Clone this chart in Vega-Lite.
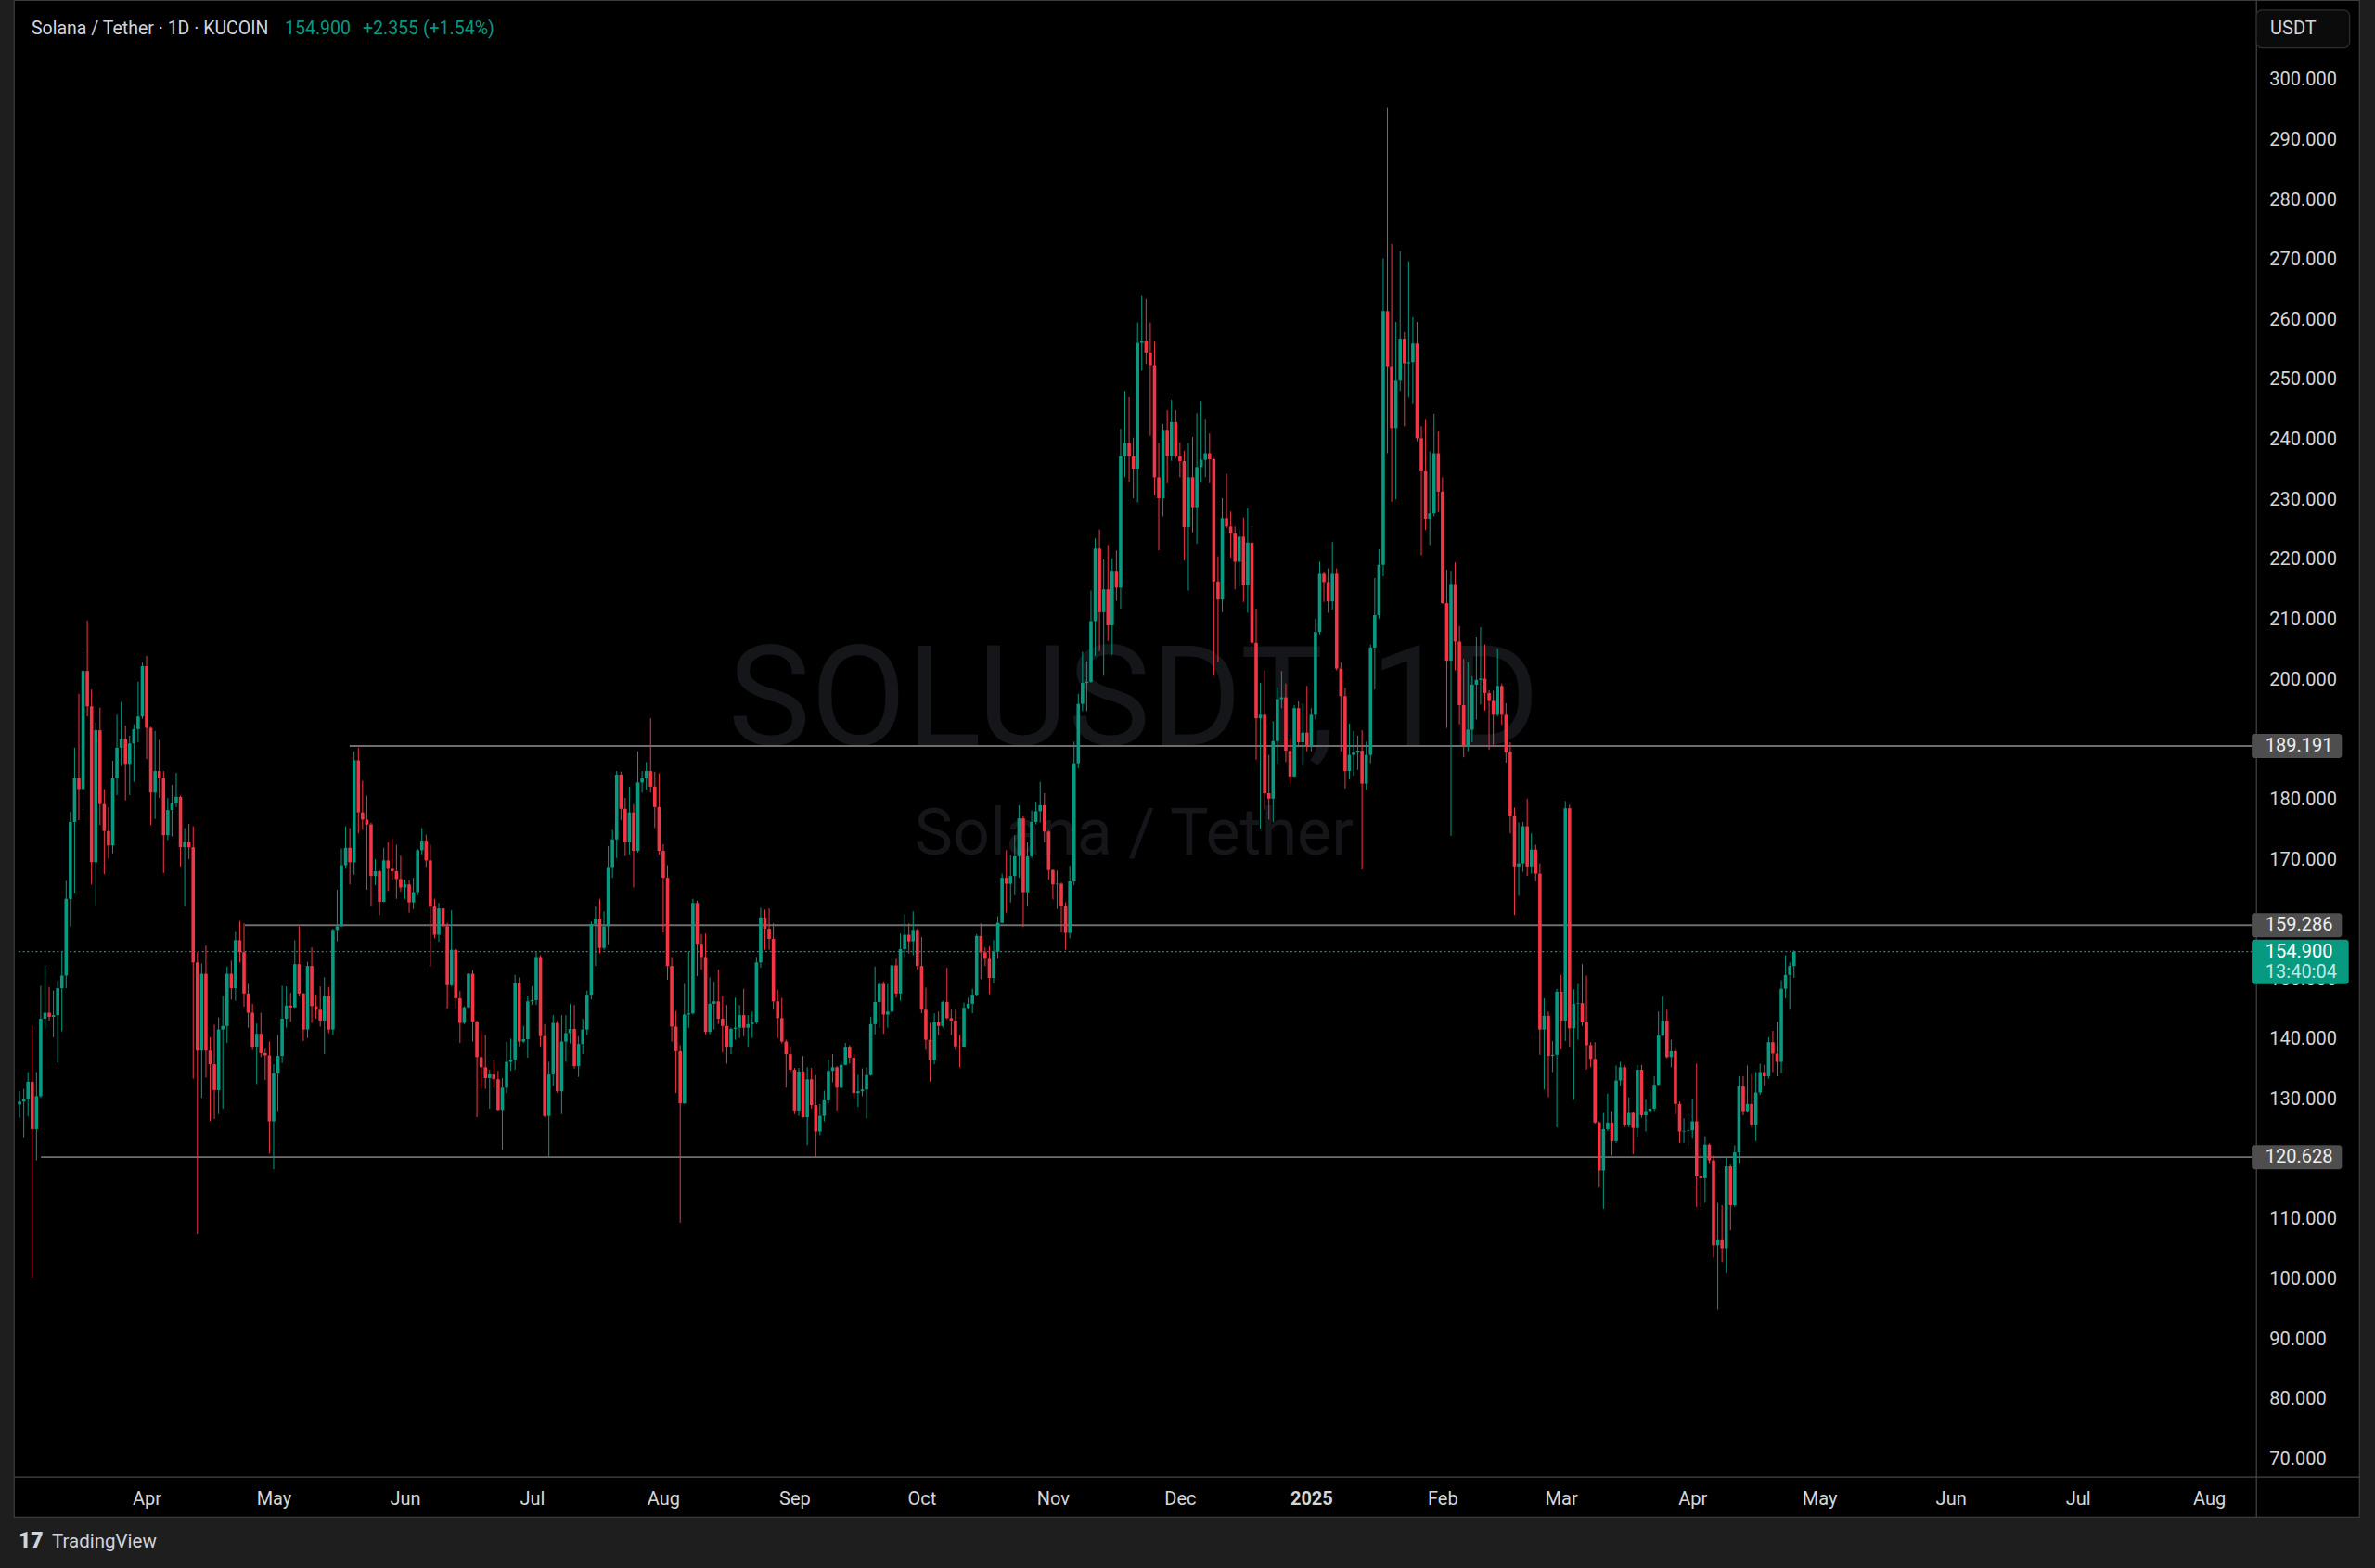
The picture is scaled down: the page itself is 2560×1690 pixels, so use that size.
{
"$schema":"https://vega.github.io/schema/vega-lite/v6.json",
"width":2528,"height":1635,
"autosize":{"type":"none"},
"padding":{"left":15,"top":0,"right":17,"bottom":55},
"background":"#1e1e1e",
"config":{"view":{"fill":"#000000","stroke":"#3c3c3c","strokeWidth":1.2},"font":"Roboto"},
"resolve":{"axis":{"x":"independent","y":"independent"}},
"datasets":{
"levels":[{"p":189.191,"s":"2024-05-18T22:33:00Z"},{"p":159.286,"s":"2024-04-24T05:17:00Z"},{"p":120.628,"s":"2024-03-07T01:40:00Z"}],
"candles":[
{"d":"2024-03-02","o":129.4,"h":131.6,"l":127.2,"c":129.9},
{"d":"2024-03-03","o":129.9,"h":132.0,"l":123.8,"c":130.3},
{"d":"2024-03-04","o":130.3,"h":134.8,"l":127.4,"c":133.2},
{"d":"2024-03-05","o":133.2,"h":142.5,"l":100.6,"c":125.3},
{"d":"2024-03-06","o":125.3,"h":134.8,"l":120.1,"c":130.8},
{"d":"2024-03-07","o":130.8,"h":149.2,"l":130.5,"c":143.7},
{"d":"2024-03-08","o":143.7,"h":152.5,"l":142.1,"c":144.7},
{"d":"2024-03-09","o":144.7,"h":149.0,"l":143.4,"c":144.0},
{"d":"2024-03-10","o":144.0,"h":148.4,"l":140.6,"c":144.3},
{"d":"2024-03-11","o":144.3,"h":150.1,"l":136.4,"c":148.8},
{"d":"2024-03-12","o":148.8,"h":155.0,"l":141.6,"c":150.9},
{"d":"2024-03-13","o":150.9,"h":166.7,"l":148.8,"c":163.7},
{"d":"2024-03-14","o":163.7,"h":178.2,"l":159.1,"c":176.5},
{"d":"2024-03-15","o":176.5,"h":188.9,"l":164.6,"c":183.8},
{"d":"2024-03-16","o":183.8,"h":197.9,"l":176.8,"c":182.0},
{"d":"2024-03-17","o":182.0,"h":204.9,"l":178.6,"c":201.7},
{"d":"2024-03-18","o":201.7,"h":210.1,"l":194.1,"c":195.8},
{"d":"2024-03-19","o":195.8,"h":198.6,"l":166.1,"c":169.8},
{"d":"2024-03-20","o":169.8,"h":193.1,"l":162.6,"c":191.8},
{"d":"2024-03-21","o":191.8,"h":195.6,"l":176.0,"c":179.5},
{"d":"2024-03-22","o":179.5,"h":182.0,"l":167.8,"c":175.0},
{"d":"2024-03-23","o":175.0,"h":179.0,"l":170.4,"c":172.6},
{"d":"2024-03-24","o":172.6,"h":186.7,"l":171.3,"c":183.8},
{"d":"2024-03-25","o":183.8,"h":194.4,"l":181.0,"c":188.9},
{"d":"2024-03-26","o":188.9,"h":196.5,"l":185.9,"c":190.3},
{"d":"2024-03-27","o":190.3,"h":192.6,"l":180.1,"c":186.2},
{"d":"2024-03-28","o":186.2,"h":190.9,"l":181.0,"c":189.6},
{"d":"2024-03-29","o":189.6,"h":192.8,"l":183.2,"c":192.0},
{"d":"2024-03-30","o":192.0,"h":199.9,"l":189.8,"c":194.1},
{"d":"2024-03-31","o":194.1,"h":203.1,"l":193.7,"c":202.5},
{"d":"2024-04-01","o":202.5,"h":204.2,"l":187.0,"c":192.2},
{"d":"2024-04-02","o":192.2,"h":192.4,"l":176.0,"c":181.4},
{"d":"2024-04-03","o":181.4,"h":191.7,"l":177.0,"c":185.0},
{"d":"2024-04-04","o":185.0,"h":190.2,"l":180.5,"c":183.8},
{"d":"2024-04-05","o":183.8,"h":185.0,"l":168.0,"c":174.3},
{"d":"2024-04-06","o":174.3,"h":180.5,"l":173.5,"c":178.5},
{"d":"2024-04-07","o":178.5,"h":182.7,"l":174.1,"c":179.6},
{"d":"2024-04-08","o":179.6,"h":184.7,"l":179.0,"c":180.7},
{"d":"2024-04-09","o":180.7,"h":180.9,"l":169.1,"c":172.3},
{"d":"2024-04-10","o":172.3,"h":175.5,"l":162.4,"c":173.2},
{"d":"2024-04-11","o":173.2,"h":176.2,"l":170.3,"c":172.3},
{"d":"2024-04-12","o":172.3,"h":175.8,"l":133.7,"c":153.1},
{"d":"2024-04-13","o":153.1,"h":154.8,"l":107.8,"c":138.4},
{"d":"2024-04-14","o":138.4,"h":152.9,"l":130.5,"c":151.2},
{"d":"2024-04-15","o":151.2,"h":155.9,"l":133.9,"c":138.4},
{"d":"2024-04-16","o":138.4,"h":140.6,"l":126.6,"c":136.1},
{"d":"2024-04-17","o":136.1,"h":142.7,"l":127.0,"c":131.8},
{"d":"2024-04-18","o":131.8,"h":143.9,"l":127.8,"c":141.9},
{"d":"2024-04-19","o":141.9,"h":147.5,"l":128.7,"c":142.5},
{"d":"2024-04-20","o":142.5,"h":152.4,"l":139.7,"c":151.2},
{"d":"2024-04-21","o":151.2,"h":153.4,"l":146.9,"c":148.8},
{"d":"2024-04-22","o":148.8,"h":158.3,"l":146.7,"c":156.8},
{"d":"2024-04-23","o":156.8,"h":160.0,"l":153.1,"c":154.8},
{"d":"2024-04-24","o":154.8,"h":159.6,"l":145.7,"c":147.9},
{"d":"2024-04-25","o":147.9,"h":149.5,"l":142.2,"c":144.7},
{"d":"2024-04-26","o":144.7,"h":146.2,"l":138.5,"c":139.0},
{"d":"2024-04-27","o":139.0,"h":142.9,"l":132.8,"c":141.2},
{"d":"2024-04-28","o":141.2,"h":144.7,"l":137.3,"c":138.0},
{"d":"2024-04-29","o":138.0,"h":138.7,"l":133.5,"c":137.6},
{"d":"2024-04-30","o":137.6,"h":139.9,"l":121.2,"c":126.6},
{"d":"2024-05-01","o":126.6,"h":136.1,"l":118.6,"c":134.6},
{"d":"2024-05-02","o":134.6,"h":141.0,"l":128.3,"c":137.5},
{"d":"2024-05-03","o":137.5,"h":149.2,"l":136.3,"c":143.7},
{"d":"2024-05-04","o":143.7,"h":149.1,"l":142.2,"c":145.9},
{"d":"2024-05-05","o":145.9,"h":148.0,"l":143.2,"c":145.6},
{"d":"2024-05-06","o":145.6,"h":156.8,"l":145.5,"c":152.8},
{"d":"2024-05-07","o":152.8,"h":159.1,"l":147.5,"c":147.9},
{"d":"2024-05-08","o":147.9,"h":148.0,"l":140.0,"c":141.9},
{"d":"2024-05-09","o":141.9,"h":153.2,"l":140.5,"c":152.5},
{"d":"2024-05-10","o":152.5,"h":155.6,"l":143.0,"c":145.8},
{"d":"2024-05-11","o":145.8,"h":147.7,"l":143.7,"c":145.2},
{"d":"2024-05-12","o":145.2,"h":149.1,"l":142.4,"c":143.4},
{"d":"2024-05-13","o":143.4,"h":150.6,"l":137.8,"c":147.5},
{"d":"2024-05-14","o":147.5,"h":149.0,"l":141.3,"c":141.9},
{"d":"2024-05-15","o":141.9,"h":158.7,"l":141.0,"c":158.5},
{"d":"2024-05-16","o":158.5,"h":165.2,"l":156.6,"c":159.1},
{"d":"2024-05-17","o":159.1,"h":172.1,"l":159.0,"c":169.3},
{"d":"2024-05-18","o":169.3,"h":175.8,"l":168.7,"c":172.2},
{"d":"2024-05-19","o":172.2,"h":175.5,"l":166.1,"c":169.8},
{"d":"2024-05-20","o":169.8,"h":188.3,"l":167.7,"c":186.8},
{"d":"2024-05-21","o":186.8,"h":188.9,"l":174.6,"c":178.1},
{"d":"2024-05-22","o":178.1,"h":183.4,"l":175.2,"c":176.9},
{"d":"2024-05-23","o":176.9,"h":180.9,"l":165.2,"c":176.1},
{"d":"2024-05-24","o":176.1,"h":176.4,"l":162.5,"c":167.5},
{"d":"2024-05-25","o":167.5,"h":170.3,"l":166.0,"c":168.3},
{"d":"2024-05-26","o":168.3,"h":168.5,"l":161.0,"c":163.2},
{"d":"2024-05-27","o":163.2,"h":172.2,"l":163.1,"c":170.1},
{"d":"2024-05-28","o":170.1,"h":173.1,"l":165.0,"c":168.7},
{"d":"2024-05-29","o":168.7,"h":173.7,"l":166.9,"c":168.3},
{"d":"2024-05-30","o":168.3,"h":172.7,"l":163.7,"c":167.0},
{"d":"2024-05-31","o":167.0,"h":170.9,"l":164.9,"c":165.6},
{"d":"2024-06-01","o":165.6,"h":166.9,"l":163.7,"c":166.1},
{"d":"2024-06-02","o":166.1,"h":166.8,"l":161.4,"c":163.1},
{"d":"2024-06-03","o":163.1,"h":167.2,"l":162.0,"c":164.8},
{"d":"2024-06-04","o":164.8,"h":172.0,"l":164.3,"c":171.8},
{"d":"2024-06-05","o":171.8,"h":175.5,"l":171.1,"c":173.4},
{"d":"2024-06-06","o":173.4,"h":174.4,"l":169.0,"c":170.1},
{"d":"2024-06-07","o":170.1,"h":172.7,"l":152.4,"c":162.4},
{"d":"2024-06-08","o":162.4,"h":163.7,"l":157.1,"c":157.7},
{"d":"2024-06-09","o":157.7,"h":163.0,"l":156.5,"c":162.1},
{"d":"2024-06-10","o":162.1,"h":163.0,"l":157.5,"c":159.1},
{"d":"2024-06-11","o":159.1,"h":159.7,"l":145.4,"c":149.3},
{"d":"2024-06-12","o":149.3,"h":161.8,"l":149.1,"c":155.2},
{"d":"2024-06-13","o":155.2,"h":155.4,"l":145.3,"c":147.1},
{"d":"2024-06-14","o":147.1,"h":148.3,"l":139.7,"c":143.0},
{"d":"2024-06-15","o":143.0,"h":145.8,"l":142.8,"c":145.6},
{"d":"2024-06-16","o":145.6,"h":151.3,"l":145.5,"c":151.2},
{"d":"2024-06-17","o":151.2,"h":151.8,"l":139.9,"c":143.2},
{"d":"2024-06-18","o":143.2,"h":143.4,"l":127.3,"c":137.3},
{"d":"2024-06-19","o":137.3,"h":141.6,"l":132.0,"c":135.6},
{"d":"2024-06-20","o":135.6,"h":141.0,"l":132.0,"c":133.8},
{"d":"2024-06-21","o":133.8,"h":135.2,"l":128.7,"c":134.4},
{"d":"2024-06-22","o":134.4,"h":136.7,"l":132.2,"c":133.6},
{"d":"2024-06-23","o":133.6,"h":135.0,"l":128.4,"c":128.5},
{"d":"2024-06-24","o":128.5,"h":133.8,"l":121.8,"c":132.2},
{"d":"2024-06-25","o":132.2,"h":139.9,"l":131.3,"c":136.5},
{"d":"2024-06-26","o":136.5,"h":140.4,"l":135.0,"c":136.9},
{"d":"2024-06-27","o":136.9,"h":151.0,"l":135.2,"c":149.6},
{"d":"2024-06-28","o":149.6,"h":150.6,"l":139.1,"c":139.9},
{"d":"2024-06-29","o":139.9,"h":142.5,"l":139.7,"c":140.3},
{"d":"2024-06-30","o":140.3,"h":147.5,"l":137.2,"c":146.6},
{"d":"2024-07-01","o":146.6,"h":149.1,"l":146.0,"c":146.8},
{"d":"2024-07-02","o":146.8,"h":155.0,"l":146.0,"c":154.0},
{"d":"2024-07-03","o":154.0,"h":154.3,"l":139.1,"c":140.8},
{"d":"2024-07-04","o":140.8,"h":142.8,"l":127.3,"c":127.5},
{"d":"2024-07-05","o":127.5,"h":136.5,"l":120.6,"c":134.4},
{"d":"2024-07-06","o":134.4,"h":144.3,"l":132.5,"c":143.0},
{"d":"2024-07-07","o":143.0,"h":143.4,"l":131.3,"c":131.6},
{"d":"2024-07-08","o":131.6,"h":144.3,"l":127.8,"c":139.9},
{"d":"2024-07-09","o":139.9,"h":144.3,"l":136.5,"c":141.3},
{"d":"2024-07-10","o":141.3,"h":146.2,"l":139.6,"c":142.0},
{"d":"2024-07-11","o":142.0,"h":146.0,"l":135.4,"c":135.8},
{"d":"2024-07-12","o":135.8,"h":140.8,"l":134.0,"c":139.5},
{"d":"2024-07-13","o":139.5,"h":143.7,"l":137.8,"c":141.9},
{"d":"2024-07-14","o":141.9,"h":148.4,"l":141.0,"c":147.7},
{"d":"2024-07-15","o":147.7,"h":159.9,"l":146.9,"c":159.5},
{"d":"2024-07-16","o":159.5,"h":162.4,"l":152.5,"c":160.4},
{"d":"2024-07-17","o":160.4,"h":163.7,"l":154.6,"c":155.5},
{"d":"2024-07-18","o":155.5,"h":161.6,"l":155.2,"c":159.1},
{"d":"2024-07-19","o":159.1,"h":172.5,"l":156.1,"c":169.0},
{"d":"2024-07-20","o":169.0,"h":175.2,"l":167.2,"c":173.6},
{"d":"2024-07-21","o":173.6,"h":185.0,"l":170.5,"c":184.4},
{"d":"2024-07-22","o":184.4,"h":184.9,"l":176.8,"c":178.7},
{"d":"2024-07-23","o":178.7,"h":180.5,"l":170.8,"c":173.1},
{"d":"2024-07-24","o":173.1,"h":182.4,"l":171.1,"c":178.1},
{"d":"2024-07-25","o":178.1,"h":179.5,"l":165.6,"c":171.7},
{"d":"2024-07-26","o":171.7,"h":188.3,"l":171.4,"c":183.1},
{"d":"2024-07-27","o":183.1,"h":185.0,"l":181.4,"c":183.8},
{"d":"2024-07-28","o":183.8,"h":186.5,"l":181.9,"c":185.0},
{"d":"2024-07-29","o":185.0,"h":193.8,"l":181.4,"c":182.4},
{"d":"2024-07-30","o":182.4,"h":184.9,"l":175.5,"c":179.0},
{"d":"2024-07-31","o":179.0,"h":184.6,"l":171.1,"c":171.7},
{"d":"2024-08-01","o":171.7,"h":172.8,"l":158.1,"c":167.2},
{"d":"2024-08-02","o":167.2,"h":169.3,"l":150.2,"c":152.5},
{"d":"2024-08-03","o":152.5,"h":154.0,"l":139.9,"c":142.4},
{"d":"2024-08-04","o":142.4,"h":145.0,"l":131.3,"c":138.3},
{"d":"2024-08-05","o":138.3,"h":139.3,"l":109.7,"c":129.6},
{"d":"2024-08-06","o":129.6,"h":149.5,"l":129.5,"c":144.4},
{"d":"2024-08-07","o":144.4,"h":154.9,"l":142.2,"c":144.6},
{"d":"2024-08-08","o":144.6,"h":163.7,"l":144.4,"c":163.0},
{"d":"2024-08-09","o":163.0,"h":163.4,"l":150.8,"c":156.2},
{"d":"2024-08-10","o":156.2,"h":157.8,"l":151.9,"c":154.0},
{"d":"2024-08-11","o":154.0,"h":157.9,"l":141.1,"c":141.5},
{"d":"2024-08-12","o":141.5,"h":150.6,"l":141.1,"c":146.2},
{"d":"2024-08-13","o":146.2,"h":149.9,"l":141.9,"c":146.6},
{"d":"2024-08-14","o":146.6,"h":151.9,"l":142.8,"c":143.7},
{"d":"2024-08-15","o":143.7,"h":147.5,"l":138.1,"c":142.5},
{"d":"2024-08-16","o":142.5,"h":146.0,"l":136.2,"c":139.0},
{"d":"2024-08-17","o":139.0,"h":142.2,"l":137.8,"c":142.0},
{"d":"2024-08-18","o":142.0,"h":147.2,"l":140.2,"c":142.2},
{"d":"2024-08-19","o":142.2,"h":146.0,"l":140.5,"c":144.3},
{"d":"2024-08-20","o":144.3,"h":148.7,"l":140.8,"c":142.2},
{"d":"2024-08-21","o":142.2,"h":144.3,"l":139.0,"c":142.8},
{"d":"2024-08-22","o":142.8,"h":144.9,"l":140.5,"c":143.1},
{"d":"2024-08-23","o":143.1,"h":154.0,"l":142.8,"c":153.1},
{"d":"2024-08-24","o":153.1,"h":162.2,"l":152.2,"c":160.6},
{"d":"2024-08-25","o":160.6,"h":161.9,"l":155.2,"c":158.7},
{"d":"2024-08-26","o":158.7,"h":162.1,"l":155.2,"c":157.0},
{"d":"2024-08-27","o":157.0,"h":159.6,"l":145.2,"c":146.6},
{"d":"2024-08-28","o":146.6,"h":148.5,"l":140.5,"c":143.8},
{"d":"2024-08-29","o":143.8,"h":147.2,"l":139.6,"c":139.9},
{"d":"2024-08-30","o":139.9,"h":140.2,"l":132.2,"c":137.8},
{"d":"2024-08-31","o":137.8,"h":139.1,"l":134.9,"c":135.2},
{"d":"2024-09-01","o":135.2,"h":135.5,"l":127.8,"c":128.4},
{"d":"2024-09-02","o":128.4,"h":135.5,"l":127.5,"c":134.9},
{"d":"2024-09-03","o":134.9,"h":137.5,"l":127.2,"c":127.3},
{"d":"2024-09-04","o":127.3,"h":135.6,"l":122.6,"c":133.6},
{"d":"2024-09-05","o":133.6,"h":135.5,"l":128.7,"c":129.3},
{"d":"2024-09-06","o":129.3,"h":134.3,"l":120.6,"c":124.9},
{"d":"2024-09-07","o":124.9,"h":129.5,"l":124.3,"c":127.5},
{"d":"2024-09-08","o":127.5,"h":131.7,"l":126.6,"c":130.1},
{"d":"2024-09-09","o":130.1,"h":136.9,"l":129.6,"c":135.0},
{"d":"2024-09-10","o":135.0,"h":137.8,"l":133.1,"c":135.6},
{"d":"2024-09-11","o":135.6,"h":135.8,"l":128.4,"c":132.2},
{"d":"2024-09-12","o":132.2,"h":136.5,"l":132.1,"c":136.0},
{"d":"2024-09-13","o":136.0,"h":139.7,"l":135.9,"c":138.9},
{"d":"2024-09-14","o":138.9,"h":139.3,"l":136.2,"c":137.2},
{"d":"2024-09-15","o":137.2,"h":137.8,"l":130.6,"c":131.3},
{"d":"2024-09-16","o":131.3,"h":134.3,"l":129.0,"c":131.6},
{"d":"2024-09-17","o":131.6,"h":135.4,"l":130.8,"c":131.9},
{"d":"2024-09-18","o":131.9,"h":135.6,"l":127.1,"c":134.3},
{"d":"2024-09-19","o":134.3,"h":144.0,"l":134.2,"c":142.8},
{"d":"2024-09-20","o":142.8,"h":152.4,"l":141.1,"c":146.5},
{"d":"2024-09-21","o":146.5,"h":149.9,"l":142.2,"c":149.5},
{"d":"2024-09-22","o":149.5,"h":149.9,"l":141.2,"c":144.4},
{"d":"2024-09-23","o":144.4,"h":149.5,"l":142.2,"c":144.9},
{"d":"2024-09-24","o":144.9,"h":153.8,"l":143.1,"c":152.6},
{"d":"2024-09-25","o":152.6,"h":153.7,"l":147.2,"c":147.9},
{"d":"2024-09-26","o":147.9,"h":157.9,"l":146.7,"c":155.3},
{"d":"2024-09-27","o":155.3,"h":161.1,"l":154.0,"c":157.7},
{"d":"2024-09-28","o":157.7,"h":159.6,"l":154.6,"c":156.6},
{"d":"2024-09-29","o":156.6,"h":161.6,"l":154.3,"c":158.5},
{"d":"2024-09-30","o":158.5,"h":158.7,"l":151.9,"c":152.5},
{"d":"2024-10-01","o":152.5,"h":157.3,"l":144.6,"c":145.2},
{"d":"2024-10-02","o":145.2,"h":148.9,"l":138.5,"c":140.2},
{"d":"2024-10-03","o":140.2,"h":143.0,"l":133.2,"c":136.8},
{"d":"2024-10-04","o":136.8,"h":144.6,"l":136.1,"c":143.1},
{"d":"2024-10-05","o":143.1,"h":144.9,"l":141.0,"c":142.5},
{"d":"2024-10-06","o":142.5,"h":146.7,"l":142.2,"c":146.5},
{"d":"2024-10-07","o":146.5,"h":152.2,"l":143.6,"c":143.8},
{"d":"2024-10-08","o":143.8,"h":145.2,"l":141.0,"c":143.4},
{"d":"2024-10-09","o":143.4,"h":145.2,"l":138.5,"c":139.1},
{"d":"2024-10-10","o":139.1,"h":141.0,"l":135.6,"c":139.0},
{"d":"2024-10-11","o":139.0,"h":146.4,"l":138.9,"c":145.5},
{"d":"2024-10-12","o":145.5,"h":147.2,"l":145.2,"c":146.2},
{"d":"2024-10-13","o":146.2,"h":148.7,"l":144.6,"c":147.7},
{"d":"2024-10-14","o":147.7,"h":157.8,"l":147.5,"c":157.5},
{"d":"2024-10-15","o":157.5,"h":159.6,"l":150.3,"c":154.8},
{"d":"2024-10-16","o":154.8,"h":155.6,"l":152.5,"c":153.7},
{"d":"2024-10-17","o":153.7,"h":155.8,"l":147.8,"c":150.5},
{"d":"2024-10-18","o":150.5,"h":156.8,"l":149.6,"c":154.9},
{"d":"2024-10-19","o":154.9,"h":160.8,"l":153.7,"c":159.7},
{"d":"2024-10-20","o":159.7,"h":167.9,"l":159.6,"c":167.2},
{"d":"2024-10-21","o":167.2,"h":171.8,"l":161.4,"c":166.2},
{"d":"2024-10-22","o":166.2,"h":171.1,"l":163.1,"c":167.5},
{"d":"2024-10-23","o":167.5,"h":174.3,"l":164.3,"c":170.8},
{"d":"2024-10-24","o":170.8,"h":179.3,"l":167.2,"c":177.1},
{"d":"2024-10-25","o":177.1,"h":177.5,"l":159.0,"c":164.8},
{"d":"2024-10-26","o":164.8,"h":173.1,"l":162.5,"c":170.8},
{"d":"2024-10-27","o":170.8,"h":178.4,"l":170.5,"c":176.5},
{"d":"2024-10-28","o":176.5,"h":179.9,"l":176.1,"c":178.3},
{"d":"2024-10-29","o":178.3,"h":183.2,"l":176.4,"c":179.3},
{"d":"2024-10-30","o":179.3,"h":181.3,"l":173.1,"c":174.9},
{"d":"2024-10-31","o":174.9,"h":175.1,"l":166.9,"c":168.5},
{"d":"2024-11-01","o":168.5,"h":168.6,"l":163.6,"c":166.1},
{"d":"2024-11-02","o":166.1,"h":168.4,"l":162.0,"c":166.2},
{"d":"2024-11-03","o":166.2,"h":166.4,"l":158.1,"c":162.5},
{"d":"2024-11-04","o":162.5,"h":163.1,"l":155.2,"c":158.0},
{"d":"2024-11-05","o":158.0,"h":169.2,"l":157.1,"c":166.6},
{"d":"2024-11-06","o":166.6,"h":189.9,"l":166.0,"c":186.3},
{"d":"2024-11-07","o":186.3,"h":197.9,"l":185.5,"c":196.2},
{"d":"2024-11-08","o":196.2,"h":204.9,"l":195.0,"c":199.7},
{"d":"2024-11-09","o":199.7,"h":203.3,"l":195.0,"c":199.9},
{"d":"2024-11-10","o":199.9,"h":215.1,"l":199.7,"c":210.0},
{"d":"2024-11-11","o":210.0,"h":223.8,"l":204.2,"c":222.1},
{"d":"2024-11-12","o":222.1,"h":225.3,"l":205.0,"c":211.5},
{"d":"2024-11-13","o":211.5,"h":220.3,"l":200.9,"c":215.3},
{"d":"2024-11-14","o":215.3,"h":222.7,"l":206.7,"c":209.3},
{"d":"2024-11-15","o":209.3,"h":220.5,"l":204.4,"c":218.4},
{"d":"2024-11-16","o":218.4,"h":221.8,"l":213.4,"c":215.6},
{"d":"2024-11-17","o":215.6,"h":242.1,"l":212.1,"c":237.5},
{"d":"2024-11-18","o":237.5,"h":248.4,"l":234.0,"c":239.7},
{"d":"2024-11-19","o":239.7,"h":247.4,"l":233.3,"c":237.5},
{"d":"2024-11-20","o":237.5,"h":240.6,"l":230.5,"c":235.4},
{"d":"2024-11-21","o":235.4,"h":259.8,"l":229.8,"c":256.4},
{"d":"2024-11-22","o":256.4,"h":264.3,"l":251.8,"c":256.8},
{"d":"2024-11-23","o":256.8,"h":263.8,"l":252.9,"c":254.8},
{"d":"2024-11-24","o":254.8,"h":259.8,"l":240.9,"c":252.7},
{"d":"2024-11-25","o":252.7,"h":256.6,"l":231.0,"c":234.0},
{"d":"2024-11-26","o":234.0,"h":239.7,"l":221.8,"c":230.5},
{"d":"2024-11-27","o":230.5,"h":242.9,"l":227.5,"c":241.9},
{"d":"2024-11-28","o":241.9,"h":245.2,"l":233.0,"c":237.5},
{"d":"2024-11-29","o":237.5,"h":246.9,"l":236.7,"c":243.2},
{"d":"2024-11-30","o":243.2,"h":245.2,"l":237.2,"c":237.5},
{"d":"2024-12-01","o":237.5,"h":239.8,"l":234.0,"c":236.7},
{"d":"2024-12-02","o":236.7,"h":238.4,"l":220.1,"c":225.7},
{"d":"2024-12-03","o":225.7,"h":239.7,"l":215.1,"c":234.0},
{"d":"2024-12-04","o":234.0,"h":240.7,"l":224.8,"c":229.0},
{"d":"2024-12-05","o":229.0,"h":244.7,"l":222.9,"c":235.7},
{"d":"2024-12-06","o":235.7,"h":246.7,"l":233.1,"c":236.9},
{"d":"2024-12-07","o":236.9,"h":243.6,"l":234.0,"c":238.0},
{"d":"2024-12-08","o":238.0,"h":241.3,"l":233.0,"c":237.0},
{"d":"2024-12-09","o":237.0,"h":237.2,"l":200.9,"c":216.6},
{"d":"2024-12-10","o":216.6,"h":220.8,"l":203.2,"c":213.6},
{"d":"2024-12-11","o":213.6,"h":230.5,"l":211.5,"c":227.2},
{"d":"2024-12-12","o":227.2,"h":234.6,"l":225.5,"c":225.8},
{"d":"2024-12-13","o":225.8,"h":228.3,"l":220.6,"c":224.6},
{"d":"2024-12-14","o":224.6,"h":225.8,"l":215.3,"c":219.9},
{"d":"2024-12-15","o":219.9,"h":225.3,"l":215.8,"c":224.1},
{"d":"2024-12-16","o":224.1,"h":227.3,"l":213.2,"c":216.0},
{"d":"2024-12-17","o":216.0,"h":228.8,"l":211.4,"c":223.1},
{"d":"2024-12-18","o":223.1,"h":225.8,"l":204.7,"c":206.4},
{"d":"2024-12-19","o":206.4,"h":212.1,"l":186.9,"c":193.8},
{"d":"2024-12-20","o":193.8,"h":199.7,"l":175.4,"c":194.4},
{"d":"2024-12-21","o":194.4,"h":201.8,"l":178.6,"c":181.3},
{"d":"2024-12-22","o":181.3,"h":187.7,"l":176.9,"c":180.4},
{"d":"2024-12-23","o":180.4,"h":193.3,"l":176.5,"c":190.0},
{"d":"2024-12-24","o":190.0,"h":199.0,"l":186.2,"c":197.0},
{"d":"2024-12-25","o":197.0,"h":201.7,"l":195.5,"c":197.3},
{"d":"2024-12-26","o":197.3,"h":199.6,"l":186.5,"c":188.4},
{"d":"2024-12-27","o":188.4,"h":190.6,"l":182.9,"c":184.1},
{"d":"2024-12-28","o":184.1,"h":196.0,"l":184.0,"c":195.5},
{"d":"2024-12-29","o":195.5,"h":196.6,"l":189.0,"c":189.8},
{"d":"2024-12-30","o":189.8,"h":196.3,"l":186.0,"c":191.4},
{"d":"2024-12-31","o":191.4,"h":199.2,"l":188.3,"c":189.2},
{"d":"2025-01-01","o":189.2,"h":195.5,"l":188.3,"c":194.4},
{"d":"2025-01-02","o":194.4,"h":210.4,"l":193.6,"c":208.2},
{"d":"2025-01-03","o":208.2,"h":219.9,"l":207.8,"c":217.9},
{"d":"2025-01-04","o":217.9,"h":218.2,"l":213.2,"c":216.5},
{"d":"2025-01-05","o":216.5,"h":218.8,"l":211.4,"c":213.3},
{"d":"2025-01-06","o":213.3,"h":223.2,"l":211.9,"c":217.9},
{"d":"2025-01-07","o":217.9,"h":218.8,"l":201.8,"c":202.1},
{"d":"2025-01-08","o":202.1,"h":203.1,"l":188.3,"c":197.5},
{"d":"2025-01-09","o":197.5,"h":198.9,"l":182.1,"c":185.0},
{"d":"2025-01-10","o":185.0,"h":192.9,"l":183.6,"c":187.7},
{"d":"2025-01-11","o":187.7,"h":191.7,"l":184.2,"c":188.1},
{"d":"2025-01-12","o":188.1,"h":190.9,"l":185.2,"c":188.4},
{"d":"2025-01-13","o":188.4,"h":191.8,"l":168.6,"c":182.9},
{"d":"2025-01-14","o":182.9,"h":189.9,"l":181.9,"c":187.7},
{"d":"2025-01-15","o":187.7,"h":206.1,"l":186.3,"c":205.6},
{"d":"2025-01-16","o":205.6,"h":217.2,"l":198.6,"c":211.0},
{"d":"2025-01-17","o":211.0,"h":222.0,"l":210.4,"c":219.4},
{"d":"2025-01-18","o":219.4,"h":270.5,"l":217.5,"c":261.7},
{"d":"2025-01-19","o":261.7,"h":295.7,"l":238.0,"c":252.4},
{"d":"2025-01-20","o":252.4,"h":272.9,"l":229.9,"c":242.2},
{"d":"2025-01-21","o":242.2,"h":259.9,"l":230.3,"c":250.1},
{"d":"2025-01-22","o":250.1,"h":271.7,"l":248.4,"c":257.1},
{"d":"2025-01-23","o":257.1,"h":258.2,"l":242.5,"c":253.0},
{"d":"2025-01-24","o":253.0,"h":270.0,"l":247.3,"c":253.2},
{"d":"2025-01-25","o":253.2,"h":260.7,"l":246.3,"c":256.3},
{"d":"2025-01-26","o":256.3,"h":259.9,"l":240.0,"c":240.5},
{"d":"2025-01-27","o":240.5,"h":242.5,"l":221.0,"c":235.0},
{"d":"2025-01-28","o":235.0,"h":243.6,"l":225.2,"c":227.1},
{"d":"2025-01-29","o":227.1,"h":238.3,"l":222.7,"c":228.0},
{"d":"2025-01-30","o":228.0,"h":244.6,"l":227.5,"c":238.0},
{"d":"2025-01-31","o":238.0,"h":241.7,"l":228.2,"c":231.6},
{"d":"2025-02-01","o":231.6,"h":234.0,"l":212.9,"c":213.0},
{"d":"2025-02-02","o":213.0,"h":218.6,"l":192.2,"c":203.4},
{"d":"2025-02-03","o":203.4,"h":218.4,"l":174.2,"c":216.2},
{"d":"2025-02-04","o":216.2,"h":219.8,"l":201.8,"c":206.6},
{"d":"2025-02-05","o":206.6,"h":209.2,"l":192.8,"c":196.0},
{"d":"2025-02-06","o":196.0,"h":203.7,"l":187.3,"c":189.3},
{"d":"2025-02-07","o":189.3,"h":203.2,"l":188.3,"c":191.9},
{"d":"2025-02-08","o":191.9,"h":200.8,"l":189.8,"c":199.4},
{"d":"2025-02-09","o":199.4,"h":207.3,"l":193.6,"c":200.2},
{"d":"2025-02-10","o":200.2,"h":209.0,"l":196.1,"c":200.4},
{"d":"2025-02-11","o":200.4,"h":206.1,"l":195.1,"c":198.0},
{"d":"2025-02-12","o":198.0,"h":198.5,"l":188.6,"c":196.7},
{"d":"2025-02-13","o":196.7,"h":198.4,"l":189.0,"c":194.4},
{"d":"2025-02-14","o":194.4,"h":205.4,"l":194.1,"c":199.2},
{"d":"2025-02-15","o":199.2,"h":199.6,"l":192.7,"c":194.4},
{"d":"2025-02-16","o":194.4,"h":196.3,"l":186.4,"c":188.1},
{"d":"2025-02-17","o":188.1,"h":189.8,"l":174.6,"c":177.5},
{"d":"2025-02-18","o":177.5,"h":178.9,"l":161.0,"c":169.1},
{"d":"2025-02-19","o":169.1,"h":176.4,"l":164.2,"c":169.6},
{"d":"2025-02-20","o":169.6,"h":176.5,"l":168.2,"c":175.8},
{"d":"2025-02-21","o":175.8,"h":180.4,"l":167.5,"c":169.1},
{"d":"2025-02-22","o":169.1,"h":174.6,"l":167.9,"c":171.9},
{"d":"2025-02-23","o":171.9,"h":172.7,"l":166.6,"c":167.9},
{"d":"2025-02-24","o":167.9,"h":169.6,"l":137.7,"c":141.9},
{"d":"2025-02-25","o":141.9,"h":147.1,"l":131.9,"c":144.2},
{"d":"2025-02-26","o":144.2,"h":144.9,"l":130.6,"c":137.5},
{"d":"2025-02-27","o":137.5,"h":140.0,"l":134.8,"c":137.7},
{"d":"2025-02-28","o":137.7,"h":148.7,"l":125.6,"c":148.2},
{"d":"2025-03-01","o":148.2,"h":151.0,"l":138.6,"c":143.4},
{"d":"2025-03-02","o":143.4,"h":180.0,"l":140.0,"c":178.8},
{"d":"2025-03-03","o":178.8,"h":179.4,"l":139.0,"c":142.1},
{"d":"2025-03-04","o":142.1,"h":148.6,"l":130.2,"c":146.2},
{"d":"2025-03-05","o":146.2,"h":149.5,"l":140.2,"c":146.3},
{"d":"2025-03-06","o":146.3,"h":152.8,"l":142.5,"c":143.1},
{"d":"2025-03-07","o":143.1,"h":150.9,"l":135.2,"c":139.3},
{"d":"2025-03-08","o":139.3,"h":139.8,"l":135.6,"c":137.0},
{"d":"2025-03-09","o":137.0,"h":139.8,"l":126.2,"c":126.4},
{"d":"2025-03-10","o":126.4,"h":126.6,"l":115.7,"c":118.4},
{"d":"2025-03-11","o":118.4,"h":128.0,"l":112.0,"c":125.3},
{"d":"2025-03-12","o":125.3,"h":131.2,"l":125.0,"c":126.4},
{"d":"2025-03-13","o":126.4,"h":128.3,"l":120.9,"c":123.3},
{"d":"2025-03-14","o":123.3,"h":135.9,"l":123.0,"c":133.4},
{"d":"2025-03-15","o":133.4,"h":136.5,"l":132.5,"c":135.6},
{"d":"2025-03-16","o":135.6,"h":136.0,"l":125.6,"c":126.0},
{"d":"2025-03-17","o":126.0,"h":130.6,"l":125.6,"c":128.0},
{"d":"2025-03-18","o":128.0,"h":128.2,"l":121.1,"c":125.5},
{"d":"2025-03-19","o":125.5,"h":136.0,"l":124.0,"c":135.2},
{"d":"2025-03-20","o":135.2,"h":136.0,"l":127.2,"c":127.6},
{"d":"2025-03-21","o":127.6,"h":130.2,"l":124.9,"c":128.3},
{"d":"2025-03-22","o":128.3,"h":131.8,"l":127.9,"c":128.7},
{"d":"2025-03-23","o":128.7,"h":134.1,"l":128.3,"c":132.7},
{"d":"2025-03-24","o":132.7,"h":144.9,"l":132.6,"c":140.9},
{"d":"2025-03-25","o":140.9,"h":147.4,"l":140.8,"c":143.4},
{"d":"2025-03-26","o":143.4,"h":145.2,"l":137.1,"c":137.3},
{"d":"2025-03-27","o":137.3,"h":140.2,"l":135.6,"c":138.3},
{"d":"2025-03-28","o":138.3,"h":138.7,"l":127.8,"c":129.5},
{"d":"2025-03-29","o":129.5,"h":129.9,"l":123.0,"c":124.9},
{"d":"2025-03-30","o":124.9,"h":127.1,"l":123.0,"c":125.0},
{"d":"2025-03-31","o":125.0,"h":127.8,"l":122.6,"c":125.1},
{"d":"2025-04-01","o":125.1,"h":130.4,"l":123.7,"c":126.6},
{"d":"2025-04-02","o":126.6,"h":136.2,"l":112.3,"c":117.4},
{"d":"2025-04-03","o":117.4,"h":122.2,"l":112.3,"c":117.1},
{"d":"2025-04-04","o":117.1,"h":124.1,"l":113.0,"c":122.7},
{"d":"2025-04-05","o":122.7,"h":122.9,"l":119.5,"c":120.1},
{"d":"2025-04-06","o":120.1,"h":120.9,"l":103.9,"c":105.9},
{"d":"2025-04-07","o":105.9,"h":113.0,"l":95.2,"c":106.9},
{"d":"2025-04-08","o":106.9,"h":112.6,"l":103.1,"c":105.4},
{"d":"2025-04-09","o":105.4,"h":120.6,"l":101.3,"c":119.1},
{"d":"2025-04-10","o":119.1,"h":119.4,"l":108.4,"c":112.6},
{"d":"2025-04-11","o":112.6,"h":122.6,"l":112.3,"c":121.4},
{"d":"2025-04-12","o":121.4,"h":134.1,"l":119.5,"c":132.4},
{"d":"2025-04-13","o":132.4,"h":134.1,"l":127.6,"c":128.3},
{"d":"2025-04-14","o":128.3,"h":135.9,"l":128.1,"c":129.5},
{"d":"2025-04-15","o":129.5,"h":134.5,"l":125.6,"c":126.0},
{"d":"2025-04-16","o":126.0,"h":134.8,"l":123.3,"c":131.4},
{"d":"2025-04-17","o":131.4,"h":136.2,"l":131.0,"c":134.8},
{"d":"2025-04-18","o":134.8,"h":136.0,"l":132.5,"c":134.1},
{"d":"2025-04-19","o":134.1,"h":140.6,"l":133.7,"c":139.8},
{"d":"2025-04-20","o":139.8,"h":141.7,"l":134.8,"c":137.9},
{"d":"2025-04-21","o":137.9,"h":143.2,"l":134.1,"c":136.5},
{"d":"2025-04-22","o":136.5,"h":150.1,"l":134.6,"c":148.7},
{"d":"2025-04-23","o":148.7,"h":154.3,"l":147.1,"c":151.0},
{"d":"2025-04-24","o":151.0,"h":153.1,"l":145.2,"c":152.5},
{"d":"2025-04-25","o":152.5,"h":155.1,"l":150.5,"c":154.9}
]},
"layer":[
{"data":{"values":[{"t":"SOLUSDT, 1D"}]},
 "mark":{"type":"text","font":"Roboto","fontSize":150,"color":"#15161a","align":"center","baseline":"alphabetic"},
 "encoding":{"text":{"field":"t"},
  "x":{"datum":{"year":2024,"month":11,"date":20,"hours":3,"utc":true},"type":"temporal","scale":{"type":"utc"},"axis":null},
  "y":{"datum":189.33,"type":"quantitative","axis":null}}},
{"data":{"values":[{"t":"Solana / Tether"}]},
 "mark":{"type":"text","font":"Roboto","fontSize":70,"color":"#15161a","align":"center","baseline":"alphabetic"},
 "encoding":{"text":{"field":"t"},
  "x":{"datum":{"year":2024,"month":11,"date":20,"hours":3,"utc":true},"type":"temporal","scale":{"type":"utc"},"axis":null},
  "y":{"datum":171.03,"type":"quantitative","axis":null}}},
{"data":{"name":"levels"},
 "mark":{"type":"rule","color":"#6e6e6e","strokeWidth":1.8},
 "encoding":{
  "x":{"field":"s","type":"temporal","scale":{"type":"utc"},"axis":null},
  "x2":{"datum":{"year":2025,"month":8,"date":11,"hours":1,"minutes":55,"utc":true}},
  "y":{"field":"p","type":"quantitative","axis":null}}},
{"data":{"values":[{"p":154.9}]},
 "mark":{"type":"rule","color":"#089981","strokeWidth":1.2,"strokeDash":[2,2.6]},
 "encoding":{
  "x":{"datum":{"year":2024,"month":3,"date":1,"hours":18,"minutes":20,"utc":true},"type":"temporal","scale":{"type":"utc"},"axis":null},
  "x2":{"datum":{"year":2025,"month":8,"date":11,"hours":1,"minutes":55,"utc":true}},
  "y":{"field":"p","type":"quantitative","axis":null}}},
{"data":{"name":"candles"},
 "mark":{"type":"rule","strokeWidth":1,"clip":true},
 "encoding":{
  "x":{"field":"d","type":"temporal",
   "scale":{"type":"utc","domain":[{"year":2024,"month":3,"date":1,"hours":18,"minutes":20,"utc":true},{"year":2025,"month":9,"date":4,"hours":8,"minutes":53,"utc":true}]},
   "axis":{"title":null,"orient":"bottom","offset":-43.3,"grid":false,"ticks":false,"labelPadding":14,"labelFlush":false,"labelOverlap":false,
    "domainColor":"#474747","domainWidth":1.2,"labelColor":"#d6d6d6","labelFont":"Roboto","labelFontSize":20,
    "values":[{"year":2024,"month":4,"date":1,"utc":true},{"year":2024,"month":5,"date":1,"utc":true},{"year":2024,"month":6,"date":1,"utc":true},{"year":2024,"month":7,"date":1,"utc":true},{"year":2024,"month":8,"date":1,"utc":true},{"year":2024,"month":9,"date":1,"utc":true},{"year":2024,"month":10,"date":1,"utc":true},{"year":2024,"month":11,"date":1,"utc":true},{"year":2024,"month":12,"date":1,"utc":true},{"year":2025,"month":1,"date":1,"utc":true},{"year":2025,"month":2,"date":1,"utc":true},{"year":2025,"month":3,"date":1,"utc":true},{"year":2025,"month":4,"date":1,"utc":true},{"year":2025,"month":5,"date":1,"utc":true},{"year":2025,"month":6,"date":1,"utc":true},{"year":2025,"month":7,"date":1,"utc":true},{"year":2025,"month":8,"date":1,"utc":true}],
    "labelExpr":"utcmonth(datum.value) == 0 ? utcFormat(datum.value, '%Y') : utcFormat(datum.value, '%b')",
    "labelFontWeight":{"condition":{"test":"utcmonth(datum.value) == 0","value":"bold"},"value":"normal"}}},
  "y":{"field":"l","type":"quantitative",
   "scale":{"domain":[61.39,312.81],"zero":false,"nice":false},
   "axis":{"title":null,"orient":"right","offset":-111.3,"grid":false,"ticks":false,"labelPadding":14,"labelAlign":"left","labelBaseline":"middle","labelOffset":-2,"labelOverlap":false,"labelFlush":false,
    "values":[70,80,90,100,110,130,140,150,170,180,200,210,220,230,240,250,260,270,280,290,300],"format":".3f",
    "domainColor":"#474747","domainWidth":1.2,"labelColor":"#d6d6d6","labelFont":"Roboto","labelFontSize":20}},
  "y2":{"field":"h"},
  "color":{"condition":{"test":"datum.c >= datum.o","value":"#089981"},"value":"#f23645"}}},
{"data":{"name":"candles"},
 "mark":{"type":"bar","size":3.6,"clip":true},
 "encoding":{
  "x":{"field":"d","type":"temporal","scale":{"type":"utc"},"axis":null},
  "y":{"field":"o","type":"quantitative","axis":null},
  "y2":{"field":"c"},
  "color":{"condition":{"test":"datum.c >= datum.o","value":"#089981"},"value":"#f23645"}}},
{"data":{"name":"levels"},
 "mark":{"type":"bar","size":26,"cornerRadius":3,"color":"#4e4e4e"},
 "encoding":{
  "x":{"datum":{"year":2025,"month":8,"date":11,"hours":1,"minutes":55,"utc":true},"type":"temporal","scale":{"type":"utc"},"axis":null},
  "x2":{"datum":{"year":2025,"month":9,"date":1,"hours":9,"minutes":7,"utc":true}},
  "y":{"field":"p","type":"quantitative","axis":null}}},
{"data":{"name":"levels"},
 "mark":{"type":"text","font":"Roboto","fontSize":20,"color":"#efefef","align":"left","baseline":"middle","dx":14.7},
 "encoding":{
  "text":{"field":"p","type":"quantitative","format":".3f"},
  "x":{"datum":{"year":2025,"month":8,"date":11,"hours":1,"minutes":55,"utc":true},"type":"temporal","scale":{"type":"utc"},"axis":null},
  "y":{"field":"p","type":"quantitative","axis":null}}},
{"data":{"values":[{"p":154.9}]},
 "mark":{"type":"bar","size":48,"cornerRadius":3,"color":"#089981"},
 "encoding":{
  "x":{"datum":{"year":2025,"month":8,"date":11,"hours":1,"minutes":55,"utc":true},"type":"temporal","scale":{"type":"utc"},"axis":null},
  "x2":{"datum":{"year":2025,"month":9,"date":2,"hours":23,"minutes":46,"utc":true}},
  "y":{"datum":153.19,"type":"quantitative","axis":null}}},
{"data":{"values":[{"t":"154.900"}]},
 "mark":{"type":"text","font":"Roboto","fontSize":20,"color":"#ffffff","align":"left","baseline":"middle","dx":14.7},
 "encoding":{"text":{"field":"t"},
  "x":{"datum":{"year":2025,"month":8,"date":11,"hours":1,"minutes":55,"utc":true},"type":"temporal","scale":{"type":"utc"},"axis":null},
  "y":{"datum":154.88,"type":"quantitative","axis":null}}},
{"data":{"values":[{"t":"13:40:04"}]},
 "mark":{"type":"text","font":"Roboto","fontSize":20,"color":"#bfe8e0","align":"left","baseline":"middle","dx":14.7},
 "encoding":{"text":{"field":"t"},
  "x":{"datum":{"year":2025,"month":8,"date":11,"hours":1,"minutes":55,"utc":true},"type":"temporal","scale":{"type":"utc"},"axis":null},
  "y":{"datum":151.45,"type":"quantitative","axis":null}}},
{"data":{"values":[{"t":"USDT"}]},
 "mark":{"type":"bar","size":40.7,"cornerRadius":6,"color":"#0b0b0b","stroke":"#2e2e2e","strokeWidth":1.2},
 "encoding":{
  "x":{"datum":{"year":2025,"month":8,"date":12,"hours":4,"minutes":5,"utc":true},"type":"temporal","scale":{"type":"utc"},"axis":null},
  "x2":{"datum":{"year":2025,"month":9,"date":3,"hours":4,"minutes":48,"utc":true}},
  "y":{"datum":308.76,"type":"quantitative","axis":null}}},
{"data":{"values":[{"t":"USDT"}]},
 "mark":{"type":"text","font":"Roboto","fontSize":20,"color":"#d1d4dc","align":"left","baseline":"middle","dx":20},
 "encoding":{"text":{"field":"t"},
  "x":{"datum":{"year":2025,"month":8,"date":11,"hours":1,"minutes":55,"utc":true},"type":"temporal","scale":{"type":"utc"},"axis":null},
  "y":{"datum":308.8,"type":"quantitative","axis":null}}},
{"data":{"values":[{"t":"Solana / Tether · 1D · KUCOIN"}]},
 "mark":{"type":"text","font":"Roboto","fontSize":19.5,"color":"#d1d4dc","align":"left","baseline":"alphabetic","dx":14},
 "encoding":{"text":{"field":"t"},
  "x":{"datum":{"year":2024,"month":3,"date":1,"hours":18,"minutes":20,"utc":true},"type":"temporal","scale":{"type":"utc"},"axis":null},
  "y":{"datum":307.9,"type":"quantitative","axis":null}}},
{"data":{"values":[{"t":"154.900"}]},
 "mark":{"type":"text","font":"Roboto","fontSize":19.5,"color":"#089981","align":"left","baseline":"alphabetic","dx":287},
 "encoding":{"text":{"field":"t"},
  "x":{"datum":{"year":2024,"month":3,"date":1,"hours":18,"minutes":20,"utc":true},"type":"temporal","scale":{"type":"utc"},"axis":null},
  "y":{"datum":307.9,"type":"quantitative","axis":null}}},
{"data":{"values":[{"t":"+2.355 (+1.54%)"}]},
 "mark":{"type":"text","font":"Roboto","fontSize":19.5,"color":"#089981","align":"left","baseline":"alphabetic","dx":371},
 "encoding":{"text":{"field":"t"},
  "x":{"datum":{"year":2024,"month":3,"date":1,"hours":18,"minutes":20,"utc":true},"type":"temporal","scale":{"type":"utc"},"axis":null},
  "y":{"datum":307.9,"type":"quantitative","axis":null}}},
{"data":{"values":[{"t":"17"}]},
 "mark":{"type":"text","font":"Roboto","fontSize":23,"fontWeight":900,"color":"#d1d4dc","align":"left","baseline":"alphabetic","dx":0},
 "encoding":{"text":{"field":"t"},
  "x":{"datum":{"year":2024,"month":3,"date":1,"hours":18,"minutes":20,"utc":true},"type":"temporal","scale":{"type":"utc"},"axis":null},
  "y":{"datum":55.55,"type":"quantitative","axis":null}}},
{"data":{"values":[{"t":"TradingView"}]},
 "mark":{"type":"text","font":"Roboto","fontSize":20.5,"color":"#d1d4dc","align":"left","baseline":"alphabetic","dx":36},
 "encoding":{"text":{"field":"t"},
  "x":{"datum":{"year":2024,"month":3,"date":1,"hours":18,"minutes":20,"utc":true},"type":"temporal","scale":{"type":"utc"},"axis":null},
  "y":{"datum":55.55,"type":"quantitative","axis":null}}}
]
}
